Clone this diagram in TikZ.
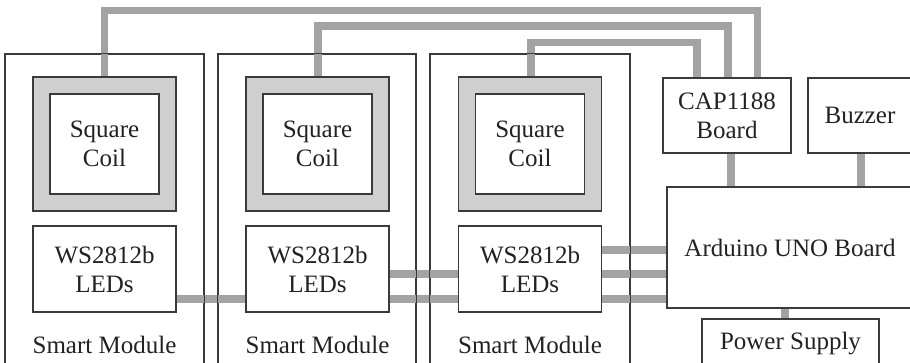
\documentclass[tikz,border=0pt]{standalone}
\usepackage{fontspec}
\setmainfont{Liberation Serif}
\definecolor{wirecol}{HTML}{A3A3A3}
\definecolor{coilfill}{HTML}{CFCFCF}
\definecolor{edge}{HTML}{3A3A3A}
\definecolor{ink}{HTML}{222222}
\begin{document}
\begin{tikzpicture}[x=1pt,y=-1pt,
  box/.style={draw=edge, line width=1.1pt, fill=white, inner sep=0pt, align=center,
    text=ink, font=\fontsize{25}{29}\selectfont},
  module/.style={draw=edge, line width=1.1pt, inner sep=0pt, minimum height=366pt},
  coil/.style={box, fill=coilfill, minimum width=143pt, minimum height=134pt},
  coilin/.style={box, minimum width=109pt, minimum height=100pt},
  led/.style={box, minimum width=143pt, minimum height=86pt},
  lbl/.style={anchor=base, inner sep=0pt, text=ink, font=\fontsize{25}{29}\selectfont},
  border/.style={draw=edge, line width=1.1pt},
  wire/.style={draw=wirecol, line width=7.5pt}]
\useasboundingbox (0,0) rectangle (910,363);
\clip (0,0) rectangle (910,363);

% modules
\node[module, minimum width=199pt] (m1) at (104.5,237) {};
\node[module, minimum width=198pt] (m2) at (317,237) {};
\node[module, minimum width=200pt] (m3) at (530,237) {};

% coils
\node[coil] (c1) at (104.5,144) {};
\node[coil] (c2) at (317.5,144) {};
\node[coil] (c3) at (530,144) {};
\node[coilin] (ci1) at (104.5,144) {Square\\Coil};
\node[coilin] (ci2) at (317.5,144) {Square\\Coil};
\node[coilin] (ci3) at (530,144) {Square\\Coil};

% LEDs
\node[led] (l1) at (104.5,269) {WS2812b\\LEDs};
\node[led] (l2) at (317.5,269) {WS2812b\\LEDs};
\node[led] (l3) at (530,269) {WS2812b\\LEDs};

\node[lbl] (s1) at (104.5,353) {Smart Module};
\node[lbl] (s2) at (317.5,353) {Smart Module};
\node[lbl] (s3) at (530,353) {Smart Module};

% right side
\node[box, minimum width=128pt, minimum height=75pt] (cap) at (727,115.5) {CAP1188\\Board};
\node[box, minimum width=104pt, minimum height=75pt] (buz) at (860,115.5) {Buzzer};
\node[box, minimum width=246pt, minimum height=121pt] (ard) at (790,247.5) {Arduino UNO Board};
\node[box, minimum width=177pt, minimum height=50pt] (pow) at (790.5,344) {Power Supply};

% wires
\draw[wire] (c1.north) -- ++(0,-66) -| ([xshift=30.5pt]cap.north);
\draw[wire] ([xshift=0.5pt]c2.north) -- ++(0,-50.5) -| ([xshift=1pt]cap.north);
\draw[wire] ([xshift=1pt]c3.north) -- ++(0,-34) -| ([xshift=-30pt]cap.north);
\draw[wire] ([xshift=4pt]cap.south) -- ([xshift=4pt]cap.south |- ard.north);
\draw[wire] ([xshift=1pt]buz.south) -- ([xshift=1pt]buz.south |- ard.north);
\draw[wire] ([xshift=-5pt]ard.south) -- ([xshift=-5pt]ard.south |- pow.north);
\draw[wire] ([yshift=-30pt]l1.east) -- ([yshift=-30pt]l2.west);
\draw[wire] ([yshift=-30pt]l2.east) -- ([yshift=-30pt]l3.west);
\draw[wire] ([yshift=-5pt]l2.east) -- ([yshift=-5pt]l3.west);
\draw[wire] ([yshift=19pt]l3.east) -- ([yshift=19pt]l3.east -| ard.west);
\draw[wire] ([yshift=-5pt]l3.east) -- ([yshift=-5pt]l3.east -| ard.west);
\draw[wire] ([yshift=-30pt]l3.east) -- ([yshift=-30pt]l3.east -| ard.west);

% module borders on top of wires
\draw[border] (m1.north west) rectangle (m1.south east);
\draw[border] (m2.north west) rectangle (m2.south east);
\draw[border] (m3.north west) rectangle (m3.south east);
\end{tikzpicture}
\end{document}
